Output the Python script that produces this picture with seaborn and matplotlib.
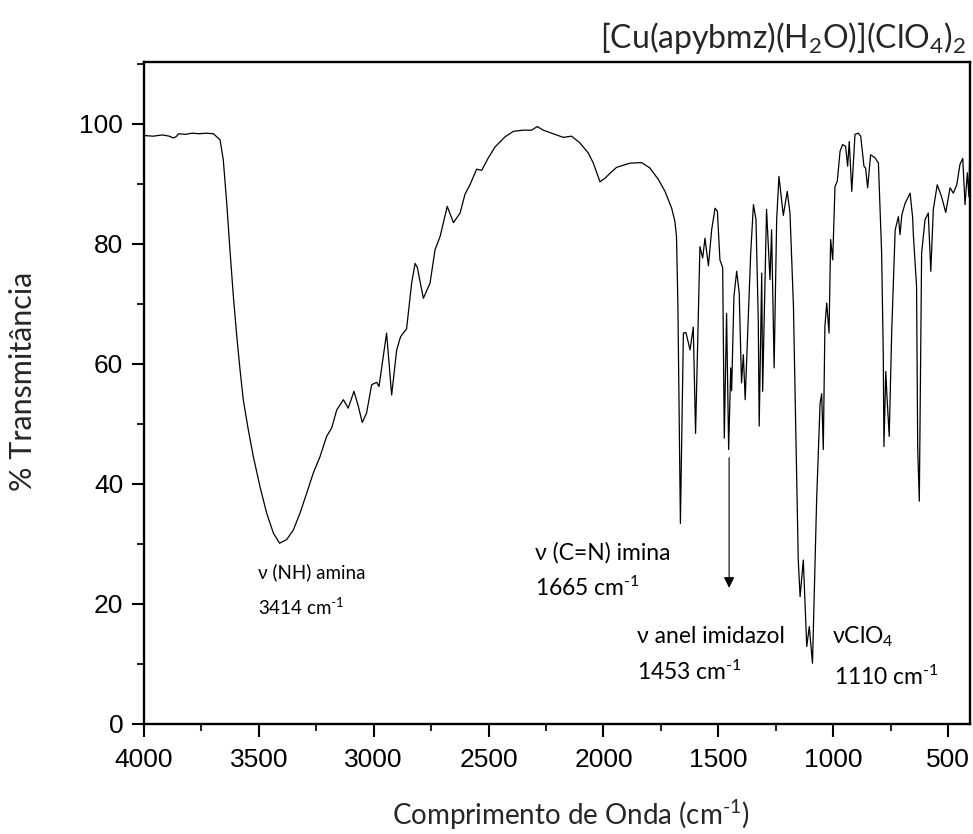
import matplotlib
matplotlib.use("Agg")
import matplotlib.pyplot as plt
import seaborn as sns
import pandas as pd
from matplotlib.ticker import MultipleLocator

# ---- data ----
wavenumber = [
    4000, 3960, 3920, 3890, 3874, 3860, 3850, 3820, 3790, 3760, 3730, 3698,
    3669, 3655, 3640, 3626, 3611, 3596, 3582, 3568, 3546, 3524, 3495, 3466,
    3437, 3410, 3379, 3350, 3321, 3292, 3263, 3234, 3205, 3183, 3161, 3132,
    3111, 3086, 3067, 3050, 3031, 3009, 2987, 2977, 2944, 2922, 2900, 2883,
    2857, 2835, 2820, 2810, 2784, 2755, 2733, 2711, 2680, 2653, 2624, 2603,
    2581, 2552, 2530, 2501, 2472, 2428, 2392, 2349, 2313, 2288, 2262, 2218,
    2175, 2139, 2103, 2066, 2044, 2015, 1993, 1972, 1943, 1885, 1834, 1798,
    1761, 1732, 1703, 1689, 1682, 1676, 1665, 1656, 1652, 1641, 1623, 1609,
    1599, 1580, 1568, 1558, 1543, 1529, 1514, 1504, 1493, 1481, 1474, 1464,
    1455, 1446, 1442, 1432, 1420, 1409, 1399, 1391, 1383, 1370, 1359, 1347,
    1336, 1326, 1322, 1311, 1307, 1290, 1282, 1275, 1268, 1257, 1246, 1236,
    1217, 1200, 1188, 1173, 1152, 1144, 1130, 1115, 1104, 1090, 1072, 1057,
    1050, 1043, 1036, 1028, 1018, 1011, 1002, 992, 982, 970, 959, 946,
    937, 930, 919, 905, 891, 880, 866, 859, 850, 837, 818, 803,
    789, 782, 779, 771, 765, 756, 745, 730, 716, 709, 701, 687,
    665, 654, 651, 637, 632, 625, 615, 600, 586, 575, 564, 547,
    528, 510, 491, 477, 462, 448, 436, 426, 416, 409, 403,
]
transmittance = [
    98.0, 97.9, 98.1, 97.9, 97.6, 97.8, 98.3, 98.2, 98.4, 98.3, 98.4, 98.3,
    97.3, 94.0, 86.8, 79.0, 71.2, 64.5, 59.0, 54.0, 49.0, 44.5, 39.5, 35.1,
    31.8, 30.1, 30.7, 32.3, 35.1, 38.4, 41.8, 44.5, 47.9, 49.3, 52.3, 54.0,
    52.6, 55.4, 52.9, 50.2, 51.8, 56.5, 56.9, 56.2, 65.1, 54.8, 62.3, 64.5,
    65.8, 73.4, 76.7, 76.0, 70.9, 73.4, 79.0, 81.2, 86.2, 83.5, 85.1, 88.2,
    89.8, 92.4, 92.2, 94.3, 96.1, 97.8, 98.7, 98.9, 98.9, 99.5, 98.9, 98.3,
    97.7, 97.9, 96.8, 95.1, 93.4, 90.3, 90.9, 91.7, 92.7, 93.4, 93.5, 92.6,
    90.7, 88.7, 85.9, 83.7, 81.2, 70.0, 33.4, 55.0, 65.1, 65.2, 62.3, 66.1,
    48.4, 79.5, 77.6, 80.9, 76.3, 82.3, 85.9, 85.4, 77.3, 76.0, 47.6, 68.4,
    45.7, 59.3, 55.5, 71.2, 75.4, 71.8, 56.8, 61.5, 54.0, 67.3, 78.4, 86.5,
    84.0, 67.3, 49.6, 75.1, 55.4, 85.7, 79.5, 74.0, 82.3, 59.3, 84.0, 91.2,
    84.7, 88.7, 85.1, 69.7, 27.3, 21.2, 27.3, 12.9, 16.2, 10.1, 37.3, 53.4,
    55.0, 45.7, 66.2, 70.1, 65.1, 80.7, 77.3, 89.5, 90.4, 95.4, 96.5, 96.2,
    92.9, 97.0, 88.7, 98.2, 98.4, 97.9, 92.9, 92.6, 89.3, 94.8, 94.3, 93.4,
    78.4, 61.8, 46.2, 58.7, 54.0, 47.9, 65.6, 82.3, 84.5, 81.5, 84.8, 86.7,
    88.4, 84.3, 81.5, 72.9, 46.0, 37.1, 78.4, 84.0, 85.1, 75.4, 85.7, 89.8,
    87.8, 85.2, 89.3, 88.4, 89.8, 93.2, 94.2, 86.5, 91.8, 87.8, 100.5,
]
x_ticks = [4000, 3500, 3000, 2500, 2000, 1500, 1000, 500]
y_ticks = [0, 20, 40, 60, 80, 100]

HY = "\u2010"  # short hyphen used in the superscripts of the reference
title = r"[Cu(apybmz)(H$_2$O)](ClO$_4$)$_2$"
xlabel = "Comprimento de Onda (cm$^{" + HY + "1}$)"
ylabel = "% Transmitância"

df = pd.DataFrame({"wn": wavenumber, "T": transmittance})

# ---- style ----
sns.set_theme(style="ticks")
plt.rcParams["font.family"] = ["Liberation Sans", "DejaVu Sans"]
plt.rcParams["mathtext.fontset"] = "custom"
plt.rcParams["mathtext.rm"] = "Lato"
plt.rcParams["mathtext.it"] = "Lato:italic"
plt.rcParams["mathtext.bf"] = "Lato:bold"
plt.rcParams["mathtext.default"] = "regular"

fig = plt.figure(figsize=(9.73, 8.34), dpi=100)
ax = fig.add_axes([0.148, 0.132, 0.849, 0.794])

sns.lineplot(data=df, x="wn", y="T", ax=ax, color="black", linewidth=0.9,
             estimator=None, sort=False)

ax.set_xlim(4000, 404)
ax.set_ylim(0, 110.3)
ax.set_xticks(x_ticks)
ax.set_yticks(y_ticks)
ax.xaxis.set_minor_locator(MultipleLocator(250))
ax.yaxis.set_minor_locator(MultipleLocator(10))
ax.tick_params(axis="both", which="major", direction="out", length=9, width=1.5,
               labelsize=19, colors="black")
ax.tick_params(axis="x", which="major", pad=8)
ax.tick_params(axis="y", which="major", pad=6)
ax.tick_params(axis="both", which="minor", direction="out", length=5, width=1.5)
ax.tick_params(top=False, right=False, which="both")
for s in ax.spines.values():
    s.set_linewidth(1.7)
    s.set_color("black")
    s.set_visible(True)

lato = ["Lato", "DejaVu Sans"]
ax.set_xlabel(xlabel, fontsize=20, family=lato, va="center")
ax.xaxis.set_label_coords(0.517, -0.137)
ax.set_ylabel(ylabel, fontsize=22, family=lato, va="center")
ax.yaxis.set_label_coords(-0.146, 0.518)
fig.text(0.993, 0.955, title, ha="right", va="center", fontsize=23, family=lato)

# ---- annotations ----
ann = dict(family=lato, color="black", ha="left", va="center")
ax.text(3504, 25.3, "ν (NH) amina", fontsize=13.5, **ann)
ax.text(3504, 19.5, "3414 cm$^{" + HY + "1}$", fontsize=13.5, **ann)
ax.text(2298, 28.5, "ν (C=N) imina", fontsize=16.5, **ann)
ax.text(2298, 22.7, "1665 cm$^{" + HY + "1}$", fontsize=16.5, **ann)
ax.text(1854, 14.5, "ν anel imidazol", fontsize=16.5, **ann)
ax.text(1854, 8.7, "1453 cm$^{" + HY + "1}$", fontsize=16.5, **ann)
ax.text(1005, 14.5, r"νClO$_4$", fontsize=16.5, **ann)
ax.text(997, 7.8, "1110 cm$^{" + HY + "1}$", fontsize=16.5, **ann)
ax.annotate("", xy=(1453, 22.2), xytext=(1453, 44.8),
            arrowprops=dict(arrowstyle="-|>", color="black", lw=0.8,
                            mutation_scale=16))

fig.savefig("out.png", dpi=100, facecolor="white")
